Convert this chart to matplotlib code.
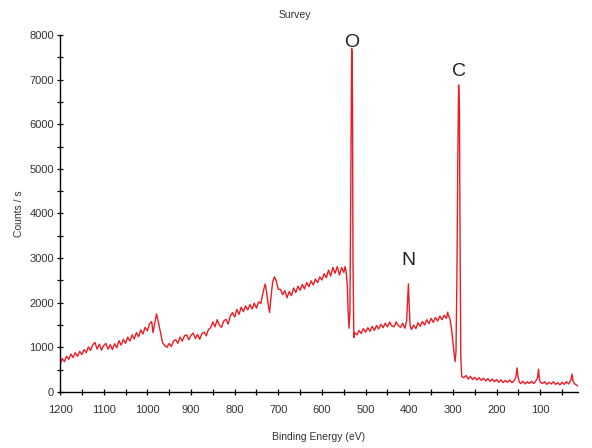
import matplotlib
matplotlib.use('Agg')
import matplotlib.pyplot as plt
from matplotlib.ticker import MultipleLocator, FixedLocator

plt.rcParams['font.family'] = ['Liberation Sans', 'DejaVu Sans']

# XPS survey spectrum
energy = [
    1200, 1195, 1190, 1185, 1180, 1175, 1170, 1165, 1160, 1155, 1150, 1145,
    1140, 1135, 1130, 1125, 1120, 1115, 1110, 1105, 1100, 1095, 1090, 1085,
    1080, 1075, 1070, 1065, 1060, 1055, 1050, 1045, 1040, 1035, 1030, 1025,
    1020, 1015, 1010, 1005, 1000, 995, 990, 987, 983, 979, 975, 970,
    965, 960, 955, 950, 945, 940, 935, 930, 925, 920, 915, 910,
    905, 900, 895, 890, 885, 880, 875, 870, 865, 860, 855, 850,
    845, 840, 835, 830, 825, 820, 815, 810, 805, 800, 795, 790,
    785, 780, 775, 770, 765, 760, 755, 750, 745, 740, 735, 730,
    727, 723, 720, 717, 713, 709, 705, 700, 695, 690, 685, 680,
    675, 670, 665, 660, 655, 650, 645, 640, 635, 630, 625, 620,
    615, 610, 605, 600, 595, 590, 585, 580, 575, 570, 565, 560,
    555, 550, 547, 545, 542, 540, 538, 536, 534, 532, 531, 530,
    529, 527, 525, 520, 515, 510, 505, 500, 495, 490, 485, 480,
    475, 470, 465, 460, 455, 450, 445, 440, 435, 430, 425, 420,
    415, 410, 406, 404, 402, 400, 398, 395, 390, 385, 380, 375,
    370, 365, 360, 355, 350, 345, 340, 335, 330, 325, 320, 315,
    312, 310, 307, 303, 300, 297, 295, 293, 291, 289, 287, 285,
    284, 282, 280, 275, 270, 265, 260, 255, 250, 245, 240, 235,
    230, 225, 220, 215, 210, 205, 200, 195, 190, 185, 180, 175,
    170, 165, 160, 156, 153, 151, 148, 145, 140, 135, 130, 125,
    120, 115, 110, 106, 104, 102, 100, 95, 90, 85, 80, 75,
    70, 65, 60, 55, 50, 45, 40, 35, 30, 27, 25, 22,
    18, 15,
]
counts = [
    620, 750, 680, 800, 730, 850, 770, 880, 800, 910, 840, 950,
    880, 1010, 930, 1060, 1110, 960, 1070, 940, 1040, 1090, 960, 1060,
    950, 1080, 990, 1150, 1050, 1180, 1090, 1230, 1140, 1280, 1190, 1330,
    1240, 1390, 1300, 1450, 1370, 1530, 1580, 1330, 1540, 1750, 1580, 1340,
    1100, 1040, 1000, 1090, 1020, 1140, 1170, 1090, 1230, 1140, 1260, 1280,
    1170, 1270, 1320, 1200, 1290, 1180, 1310, 1340, 1260, 1400, 1440, 1570,
    1460, 1620, 1500, 1450, 1590, 1630, 1520, 1700, 1780, 1680, 1850, 1740,
    1900, 1800, 1930, 1840, 1960, 1860, 1990, 1880, 2020, 1980, 2230, 2420,
    2250, 1950, 1780, 2100, 2460, 2580, 2500, 2300, 2300, 2180, 2270, 2110,
    2250, 2160, 2330, 2230, 2370, 2280, 2410, 2310, 2450, 2360, 2490, 2400,
    2530, 2450, 2580, 2510, 2650, 2560, 2730, 2600, 2790, 2660, 2810, 2620,
    2790, 2680, 2810, 2720, 2400, 1800, 1430, 1800, 4500, 7700, 7600, 6400,
    3000, 1220, 1330, 1280, 1380, 1310, 1420, 1340, 1440, 1360, 1470, 1380,
    1490, 1410, 1520, 1440, 1540, 1460, 1570, 1480, 1460, 1570, 1490, 1450,
    1540, 1430, 1600, 2000, 2420, 1900, 1480, 1400, 1500, 1420, 1550, 1470,
    1580, 1500, 1620, 1530, 1650, 1560, 1670, 1590, 1700, 1620, 1720, 1650,
    1790, 1700, 1650, 1400, 1100, 850, 680, 900, 2500, 5000, 6880, 6300,
    4000, 800, 350, 320, 370, 290, 350, 280, 330, 270, 320, 260,
    310, 250, 300, 240, 290, 230, 280, 220, 270, 210, 260, 220,
    270, 210, 250, 330, 540, 350, 220, 190, 240, 180, 230, 190,
    240, 190, 250, 320, 510, 300, 220, 190, 230, 170, 220, 180,
    230, 170, 210, 160, 220, 170, 230, 180, 260, 400, 250, 190,
    160, 140,
]

# element labels: (text, peak energy)
peak_labels = [('O', 532), ('C', 287), ('N', 402)]
label_offsets = {'O': 120, 'C': 300, 'N': 520}

fig = plt.figure(figsize=(5.92, 4.48), dpi=100)
ax = fig.add_axes([0.1014, 0.125, 0.8746, 0.797])

ax.plot(energy, counts, color='#ec1c24', linewidth=1.0)

for name, pos in peak_labels:
    height = counts[energy.index(pos)]
    ax.text(pos, height + label_offsets[name], name, ha='center', va='center',
            fontsize=14, color='#222222')

ax.set_xlim(1200, 14)
ax.set_ylim(0, 8000)
ax.xaxis.set_major_locator(FixedLocator(list(range(1200, 99, -100))))
ax.xaxis.set_minor_locator(MultipleLocator(50))
ax.yaxis.set_major_locator(MultipleLocator(1000))
ax.yaxis.set_minor_locator(MultipleLocator(500))

for side in ('top', 'right'):
    ax.spines[side].set_visible(False)
for side in ('left', 'bottom'):
    ax.spines[side].set_linewidth(1.0)

ax.tick_params(which='both', direction='inout', length=5, width=0.9,
               labelsize=8, colors='black', labelcolor='#333333')
ax.tick_params(axis='x', pad=7)
ax.tick_params(axis='y', pad=2)

ax.set_xlabel('Binding Energy (eV)', fontsize=7.5, color='#333333', labelpad=12)
ax.set_ylabel('Counts / s', fontsize=7.5, color='#333333', labelpad=4)
fig.text(295 / 592, 1 - 15 / 448, 'Survey', ha='center', va='center',
         fontsize=7.5, color='#333333')

fig.savefig('out.png', dpi=100)
